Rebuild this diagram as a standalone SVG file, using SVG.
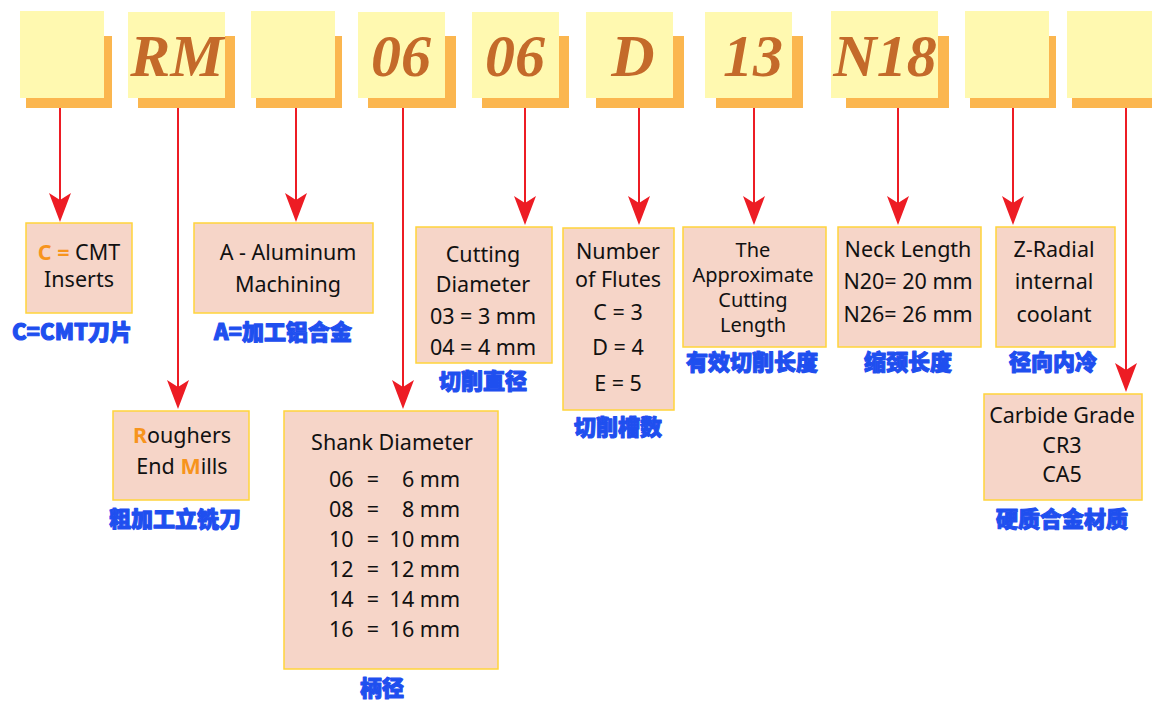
<svg xmlns="http://www.w3.org/2000/svg" width="1152" height="702" viewBox="0 0 1152 702">
<style>
.sh{fill:#FBB64F}
.yb{fill:#FFF9B0}
.code{font-family:"Liberation Serif",serif;font-style:italic;font-weight:bold;font-size:60px;fill:#C46A2A;text-anchor:middle}
.lb{fill:#F6D5C8;stroke:#FFD43B;stroke-width:1.5}
.t{font-family:"Noto Sans","Liberation Sans",sans-serif;font-size:21.5px;fill:#111;text-anchor:middle}
.ts{font-size:20px}
.or{fill:#F7941D;font-weight:bold}
.cn{font-family:"Noto Sans CJK SC","Noto Sans",sans-serif;font-weight:900;font-size:22px;fill:#1F4FEF;stroke:#1F4FEF;stroke-width:1.1;stroke-linejoin:round;text-anchor:middle}
.ar{stroke:#ED1C24;stroke-width:2;fill:none;marker-end:url(#ah)}
</style>
<defs>
<marker id="ah" markerUnits="userSpaceOnUse" markerWidth="30" markerHeight="24" viewBox="0 0 30 24" refX="24" refY="12" orient="auto">
<path d="M0,1 L29,12 L0,23 L7,12 Z" fill="#ED1C24"/>
</marker>
</defs>
<rect width="1152" height="702" fill="#FFFFFF"/>

<g id="code-1"><rect class="sh" x="26" y="36" width="86" height="72"/><rect class="yb" x="20" y="11" width="84" height="87"/></g>
<g id="code-RM"><rect class="sh" x="138" y="36" width="97" height="72"/><rect class="yb" x="128" y="12" width="97" height="86"/><text class="code" x="177" y="76">RM</text></g>
<g id="code-3"><rect class="sh" x="256" y="36" width="86" height="72"/><rect class="yb" x="251" y="11" width="84" height="87"/></g>
<g id="code-06a"><rect class="sh" x="368" y="36" width="88" height="72"/><rect class="yb" x="358" y="12" width="87" height="86"/><text class="code" x="401" y="76">06</text></g>
<g id="code-06b"><rect class="sh" x="482" y="36" width="87" height="72"/><rect class="yb" x="472" y="12" width="87" height="86"/><text class="code" x="515" y="76">06</text></g>
<g id="code-D"><rect class="sh" x="596" y="36" width="88" height="72"/><rect class="yb" x="586" y="12" width="87" height="86"/><text class="code" x="633" y="76">D</text></g>
<g id="code-13"><rect class="sh" x="716" y="36" width="87" height="72"/><rect class="yb" x="705" y="12" width="87" height="86"/><text class="code" x="753" y="76">13</text></g>
<g id="code-N18"><rect class="sh" x="846" y="36" width="103" height="72"/><rect class="yb" x="831" y="11" width="107" height="87"/><text class="code" x="885" y="76">N18</text></g>
<g id="code-9"><rect class="sh" x="970" y="36" width="86" height="72"/><rect class="yb" x="965" y="11" width="84" height="87"/></g>
<g id="code-10"><rect class="sh" x="1072" y="36" width="82" height="72"/><rect class="yb" x="1067" y="11" width="85" height="87"/></g>

<g id="connectors">
<line class="ar" x1="60" y1="108" x2="60" y2="217"/>
<line class="ar" x1="178" y1="108" x2="178" y2="404"/>
<line class="ar" x1="296" y1="108" x2="296" y2="217"/>
<line class="ar" x1="403" y1="108" x2="403" y2="404"/>
<line class="ar" x1="525" y1="108" x2="525" y2="220"/>
<line class="ar" x1="639" y1="108" x2="639" y2="220"/>
<line class="ar" x1="754" y1="108" x2="754" y2="220"/>
<line class="ar" x1="898" y1="108" x2="898" y2="220"/>
<line class="ar" x1="1013" y1="108" x2="1013" y2="220"/>
<line class="ar" x1="1126" y1="108" x2="1126" y2="387"/>
</g>

<g id="cmt">
<rect class="lb" x="26" y="223" width="106" height="90"/>
<text class="t" x="79" y="260"><tspan class="or">C = </tspan>CMT</text>
<text class="t" x="79" y="287">Inserts</text>
<text class="cn" x="72" y="340">C=CMT刀片</text>
</g>
<g id="aluminum">
<rect class="lb" x="194" y="223" width="179" height="90"/>
<text class="t" x="288" y="260">A - Aluminum</text>
<text class="t" x="288" y="292">Machining</text>
<text class="cn" x="283" y="340">A=加工铝合金</text>
</g>
<g id="roughers">
<rect class="lb" x="113" y="411" width="136" height="89"/>
<text class="t" x="182" y="443"><tspan class="or">R</tspan>oughers</text>
<text class="t" x="182" y="474">End <tspan class="or">M</tspan>ills</text>
<text class="cn" x="175" y="527">粗加工立铣刀</text>
</g>
<g id="shank">
<rect class="lb" x="284" y="411" width="214" height="258"/>
<text class="t" x="392" y="450">Shank Diameter</text>
<g class="t">
<text x="329" y="487" text-anchor="start">06</text><text x="373" y="487">=</text><text x="460" y="487" text-anchor="end">6 mm</text>
<text x="329" y="517" text-anchor="start">08</text><text x="373" y="517">=</text><text x="460" y="517" text-anchor="end">8 mm</text>
<text x="329" y="547" text-anchor="start">10</text><text x="373" y="547">=</text><text x="460" y="547" text-anchor="end">10 mm</text>
<text x="329" y="577" text-anchor="start">12</text><text x="373" y="577">=</text><text x="460" y="577" text-anchor="end">12 mm</text>
<text x="329" y="607" text-anchor="start">14</text><text x="373" y="607">=</text><text x="460" y="607" text-anchor="end">14 mm</text>
<text x="329" y="637" text-anchor="start">16</text><text x="373" y="637">=</text><text x="460" y="637" text-anchor="end">16 mm</text>
</g>
<text class="cn" x="382" y="696">柄径</text>
</g>
<g id="cutting-diameter">
<rect class="lb" x="416" y="227" width="136" height="136"/>
<text class="t" x="483" y="262">Cutting</text>
<text class="t" x="483" y="292">Diameter</text>
<text class="t" x="483" y="324">03 = 3 mm</text>
<text class="t" x="483" y="355">04 = 4 mm</text>
<text class="cn" x="483" y="389">切削直径</text>
</g>
<g id="flutes">
<rect class="lb" x="563" y="228" width="111" height="182"/>
<text class="t" x="618" y="259">Number</text>
<text class="t" x="618" y="287">of Flutes</text>
<text class="t" x="618" y="320">C = 3</text>
<text class="t" x="618" y="355">D = 4</text>
<text class="t" x="618" y="391">E = 5</text>
<text class="cn" x="618" y="435">切削槽数</text>
</g>
<g id="cutting-length">
<rect class="lb" x="683" y="227" width="143" height="120"/>
<text class="t ts" x="753" y="257">The</text>
<text class="t ts" x="753" y="282">Approximate</text>
<text class="t ts" x="753" y="307">Cutting</text>
<text class="t ts" x="753" y="332">Length</text>
<text class="cn" x="752" y="370">有效切削长度</text>
</g>
<g id="neck">
<rect class="lb" x="838" y="227" width="143" height="120"/>
<text class="t" x="908" y="257">Neck Length</text>
<text class="t" x="908" y="289">N20= 20 mm</text>
<text class="t" x="908" y="322">N26= 26 mm</text>
<text class="cn" x="908" y="370">缩颈长度</text>
</g>
<g id="coolant">
<rect class="lb" x="996" y="227" width="119" height="120"/>
<text class="t" x="1054" y="257">Z-Radial</text>
<text class="t" x="1054" y="289">internal</text>
<text class="t" x="1054" y="322">coolant</text>
<text class="cn" x="1053" y="370">径向内冷</text>
</g>
<g id="carbide">
<rect class="lb" x="984" y="394" width="158" height="106"/>
<text class="t" x="1062" y="423">Carbide Grade</text>
<text class="t" x="1062" y="453">CR3</text>
<text class="t" x="1062" y="482">CA5</text>
<text class="cn" x="1062" y="527">硬质合金材质</text>
</g>
</svg>
